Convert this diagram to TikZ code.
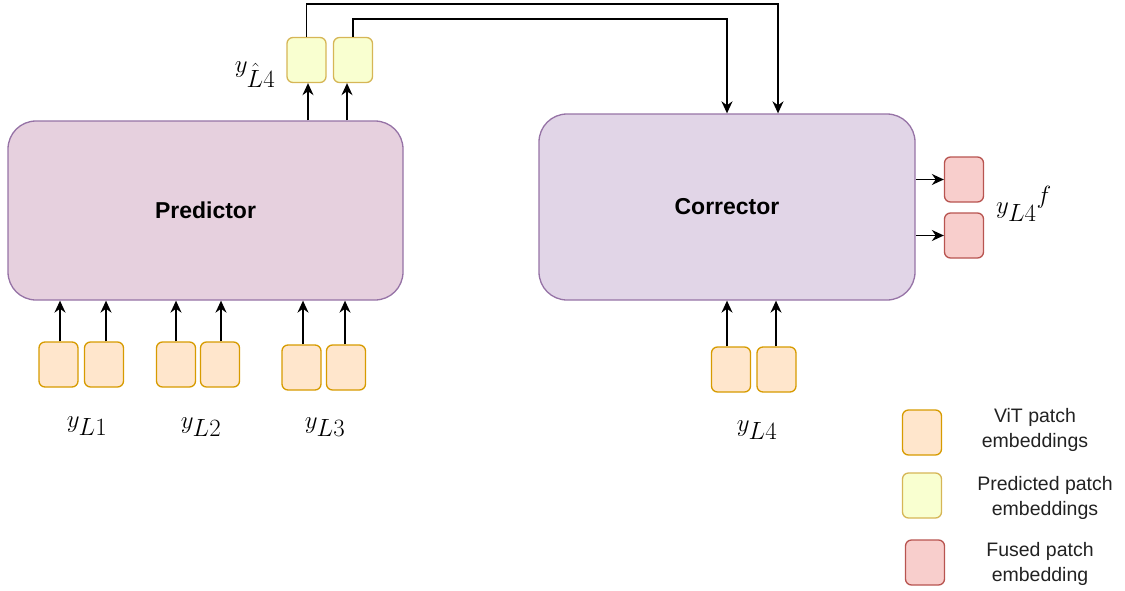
\documentclass[tikz,border=0pt]{standalone}
\usepackage[no-math]{fontspec}
\setmainfont{Liberation Sans}
\usetikzlibrary{arrows.meta,calc}

\definecolor{embfill}{HTML}{FFE6CC}
\definecolor{embdraw}{HTML}{D79B00}
\definecolor{predfill}{HTML}{F9FFD0}
\definecolor{preddraw}{HTML}{D6B656}
\definecolor{fusefill}{HTML}{F8CECC}
\definecolor{fusedraw}{HTML}{B85450}
\definecolor{pfill}{HTML}{E6D0DE}
\definecolor{cfill}{HTML}{E1D5E7}
\definecolor{blockdraw}{HTML}{9673A6}
\definecolor{legtext}{HTML}{222222}

\tikzset{
  patch/.style={rounded corners=6pt, line width=1.3pt, minimum width=39pt,
    minimum height=45pt, inner sep=0pt},
  vitpatch/.style={patch, draw=embdraw, fill=embfill},
  predpatch/.style={patch, draw=preddraw, fill=predfill},
  fusedpatch/.style={patch, draw=fusedraw, fill=fusefill},
  block/.style={rounded corners=28pt, line width=1.3pt, draw=blockdraw,
    font=\fontsize{23}{27}\selectfont\bfseries, text=black},
  arr/.style={line width=1.5pt, -{Stealth[length=12pt,width=11pt]}},
  wire/.style={line width=1.5pt},
  mlabel/.style={font=\fontsize{34}{34}\selectfont, anchor=base, inner sep=0pt},
  legend/.style={font=\fontsize{19.5}{25}\selectfont, text=legtext, align=center}
}

\begin{document}
\begin{tikzpicture}[x=1pt,y=-1pt]
\useasboundingbox (0,0) rectangle (1125,590);

% main blocks
\node[block, fill=pfill, minimum width=395pt, minimum height=179pt] (pred) at (205.5,210.5) {Predictor};
\node[block, fill=cfill, minimum width=376pt, minimum height=186pt] (corr) at (727,207) {Corrector};

% ViT patch inputs of the predictor
\node[vitpatch] (a1) at (58.5,364.5) {};
\node[vitpatch] (a2) at (104,364.5) {};
\node[vitpatch] (b1) at (176,364.5) {};
\node[vitpatch] (b2) at (220,364.5) {};
\node[vitpatch] (c1) at (301.5,367.5) {};
\node[vitpatch] (c2) at (346,367.5) {};
% ViT patch inputs of the corrector
\node[vitpatch] (d1) at (731,369.5) {};
\node[vitpatch] (d2) at (776.5,369.5) {};

% arrow start points on the patch tops
\foreach \n/\dx in {a1/1.5,a2/2,b1/0,b2/1,c1/1.5,c2/-1,d1/-4,d2/-0.5}{
  \coordinate (\n t) at ($(\n.north)+(\dx,0)$);
}
\foreach \n in {a1,a2,b1,b2,c1,c2}{
  \draw[arr] (\n t) -- (\n t |- pred.south);
}
\foreach \n in {d1,d2}{
  \draw[arr] (\n t) -- (\n t |- corr.south);
}

% input labels
\node[mlabel] (la) at (87,427) {$y_{L1}$};
\node[mlabel] (lb) at (201,428) {$y_{L2}$};
\node[mlabel] (lc) at (325,428) {$y_{L3}$};
\node[mlabel] (ld) at (757,431) {$y_{L4}$};

% predicted patches
\node[predpatch] (p1) at (306.5,60) {};
\node[predpatch] (p2) at (353,60) {};
\node[mlabel] (lp) at (255,72) {$y_{\hat{L}4}$};

\coordinate (p1b) at ($(p1.south)+(1.5,0)$);
\coordinate (p2b) at ($(p2.south)+(-6,0)$);
\draw[arr] (p1b |- pred.north) -- (p1b);
\draw[arr] (p2b |- pred.north) -- (p2b);

% predicted patches routed into the corrector
\coordinate (t1) at (778,4);
\coordinate (t2) at (727,19);
\draw[wire, arr] (p1.north) -- (p1.north |- t1) -- (t1) -- (t1 |- corr.north);
\draw[wire, arr] (p2.north) -- (p2.north |- t2) -- (t2) -- (t2 |- corr.north);

% fused outputs
\node[fusedpatch] (f1) at (964,179.5) {};
\node[fusedpatch] (f2) at (964,235.5) {};
\draw[arr] (f1.west -| corr.east) -- (f1.west);
\draw[arr] (f2.west -| corr.east) -- (f2.west);
\node[mlabel] (lf) at (1024,213) {${y_{L4}}^{f}$};

% legend
\node[vitpatch] (k1) at (922,432.5) {};
\node[predpatch] (k2) at (922,495.5) {};
\node[fusedpatch] (k3) at (925,562.5) {};
\node[legend] (kt1) at (1035,430) {ViT patch\\embeddings};
\node[legend] (kt2) at (1045,498) {Predicted patch\\embeddings};
\node[legend] (kt3) at (1040,564) {Fused patch\\embedding};
\end{tikzpicture}
\end{document}
